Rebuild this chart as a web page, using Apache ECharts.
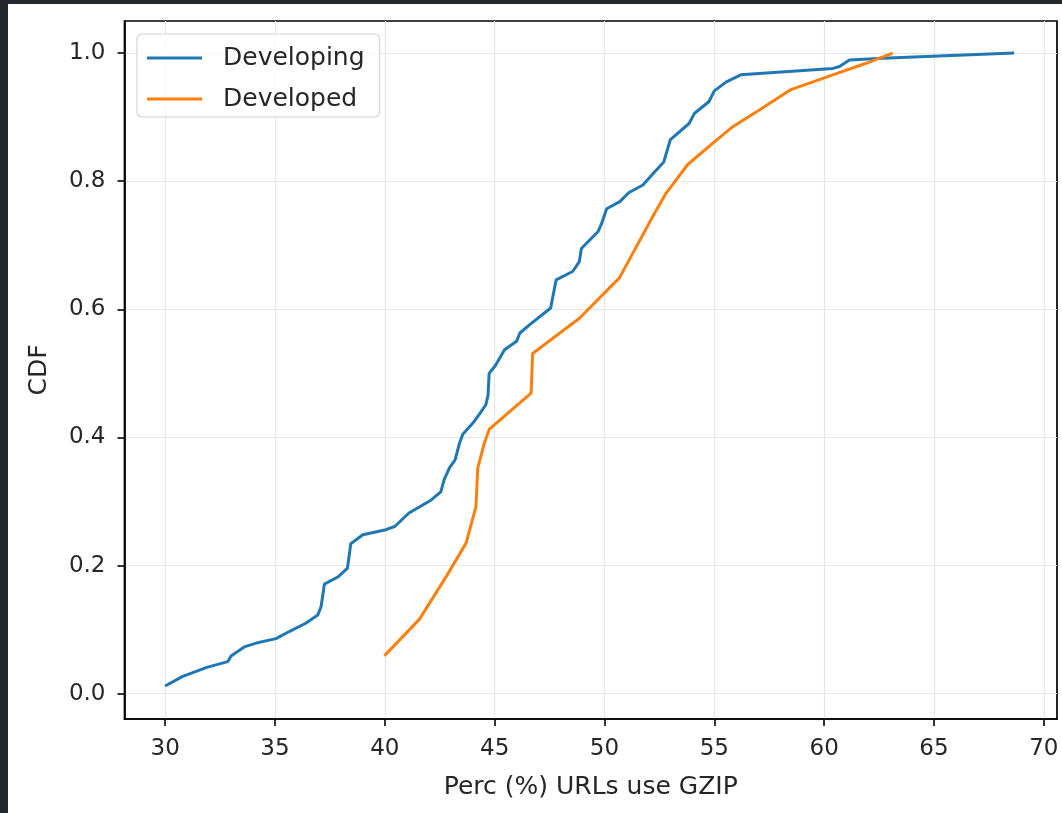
<!DOCTYPE html>
<html>
<head>
<meta charset="utf-8">
<script src="https://cdn.jsdelivr.net/npm/echarts@6/dist/echarts.min.js"></script>
<style>
  html, body { margin: 0; padding: 0; background: #23272e; width: 1062px; height: 813px; overflow: hidden; }
  #chart { position: absolute; left: 8px; top: 4px; width: 1054px; height: 809px; background: #ffffff; }
</style>
</head>
<body>
<div id="chart"></div>
<script>
// ---- data ----
const seriesNames = ['Developing', 'Developed'];

const developingX = [30.0, 30.8, 31.9, 32.85, 33.0, 33.6, 34.15, 35.05, 35.65, 36.4, 36.95, 37.1, 37.25, 37.9, 38.3, 38.45, 39.0, 40.05, 40.45, 41.1, 42.1, 42.55, 42.7, 42.95, 43.2, 43.4, 43.55, 44.0, 44.3, 44.6, 44.7, 44.75, 45.05, 45.45, 46.0, 46.15, 46.6, 47.55, 47.8, 48.55, 48.85, 48.95, 49.7, 49.85, 50.1, 50.7, 51.1, 51.75, 52.3, 52.7, 53.0, 53.85, 54.1, 54.75, 55.0, 55.55, 56.2, 60.4, 60.7, 61.15, 62.65, 68.65];
const developingY = [0.012, 0.027, 0.041, 0.05, 0.059, 0.073, 0.079, 0.086, 0.097, 0.11, 0.123, 0.136, 0.171, 0.183, 0.196, 0.234, 0.248, 0.256, 0.261, 0.282, 0.302, 0.315, 0.334, 0.353, 0.365, 0.391, 0.405, 0.422, 0.436, 0.451, 0.466, 0.50, 0.513, 0.537, 0.55, 0.563, 0.576, 0.602, 0.646, 0.659, 0.674, 0.695, 0.721, 0.732, 0.757, 0.768, 0.782, 0.794, 0.815, 0.83, 0.865, 0.89, 0.906, 0.924, 0.941, 0.955, 0.966, 0.976, 0.979, 0.989, 0.992, 1.0];

const developedX = [39.98, 41.57, 42.71, 43.7, 44.15, 44.23, 44.53, 44.76, 46.66, 46.73, 48.86, 50.68, 52.12, 52.8, 53.79, 54.92, 55.84, 57.05, 58.49, 60.39, 61.91, 63.12];
const developedY = [0.059, 0.116, 0.178, 0.235, 0.292, 0.352, 0.391, 0.413, 0.469, 0.531, 0.586, 0.649, 0.74, 0.781, 0.826, 0.859, 0.885, 0.911, 0.943, 0.966, 0.984, 1.0];

const xTicks = [30, 35, 40, 45, 50, 55, 60, 65, 70];
const yTicks = [0.0, 0.2, 0.4, 0.6, 0.8, 1.0];

const xLabel = 'Perc (%) URLs use GZIP';
const yLabel = 'CDF';
// ----------------------------------------------

const pairs = (xs, ys) => xs.map((x, i) => [x, ys[i]]);
const FONT = 'DejaVu Sans';
const TXT = '#262626';
const FS_TICK = 23;
const FS_TEXT = 25;

const chart = echarts.init(document.getElementById('chart'), null, { renderer: 'canvas' });

const axisCommon = {
  type: 'value',
  axisLine: { show: true, onZero: false, lineStyle: { color: '#000', width: 1.7 } },
  axisTick: { show: true, inside: false, length: 7, lineStyle: { color: '#000', width: 1.6 } },
  splitLine: { show: true, lineStyle: { color: '#e6e6e6', width: 1.2 } },
  nameLocation: 'middle',
  nameTextStyle: { fontFamily: FONT, fontSize: FS_TEXT, color: TXT }
};

chart.setOption({
  animation: false,
  backgroundColor: '#ffffff',
  textStyle: { fontFamily: FONT },
  grid: { left: 116.5, right: 5, top: 17, bottom: 94, containLabel: false,
          show: true, borderColor: '#000', borderWidth: 1.7, backgroundColor: 'transparent' },
  xAxis: Object.assign({}, axisCommon, {
    min: 28.15, max: 70.6,
    name: xLabel, nameGap: 56,
    axisTick: Object.assign({}, axisCommon.axisTick, { customValues: xTicks }),
    axisLabel: { customValues: xTicks, margin: 19, fontFamily: FONT, fontSize: FS_TICK, color: TXT, formatter: v => String(Math.round(v)) }
  }),
  yAxis: Object.assign({}, axisCommon, {
    min: -0.0395, max: 1.05,
    name: yLabel, nameGap: 73, nameRotate: 90,
    axisTick: Object.assign({}, axisCommon.axisTick, { customValues: yTicks }),
    axisLabel: { customValues: yTicks, margin: 19, fontFamily: FONT, fontSize: FS_TICK, color: TXT, formatter: v => Number(v).toFixed(1) }
  }),
  legend: {
    orient: 'vertical',
    left: 129, top: 30,
    data: seriesNames,
    icon: 'rect',
    itemWidth: 55, itemHeight: 3,
    itemGap: 13,
    padding: [10, 15, 4, 10],
    backgroundColor: 'rgba(255,255,255,0.8)',
    borderColor: '#d4d4d4', borderWidth: 1.2, borderRadius: 5,
    textStyle: { fontFamily: FONT, fontSize: FS_TEXT, color: TXT, lineHeight: 28, padding: [0, 0, 0, 16] }
  },
  series: [
    { name: seriesNames[0], type: 'line', data: pairs(developingX, developingY), showSymbol: false, symbol: 'none',
      color: '#1f77b4', lineStyle: { color: '#1f77b4', width: 3 }, z: 2 },
    { name: seriesNames[1], type: 'line', data: pairs(developedX, developedY), showSymbol: false, symbol: 'none',
      color: '#ff7f0e', lineStyle: { color: '#ff7f0e', width: 3 }, z: 3 }
  ]
});
</script>
</body>
</html>
